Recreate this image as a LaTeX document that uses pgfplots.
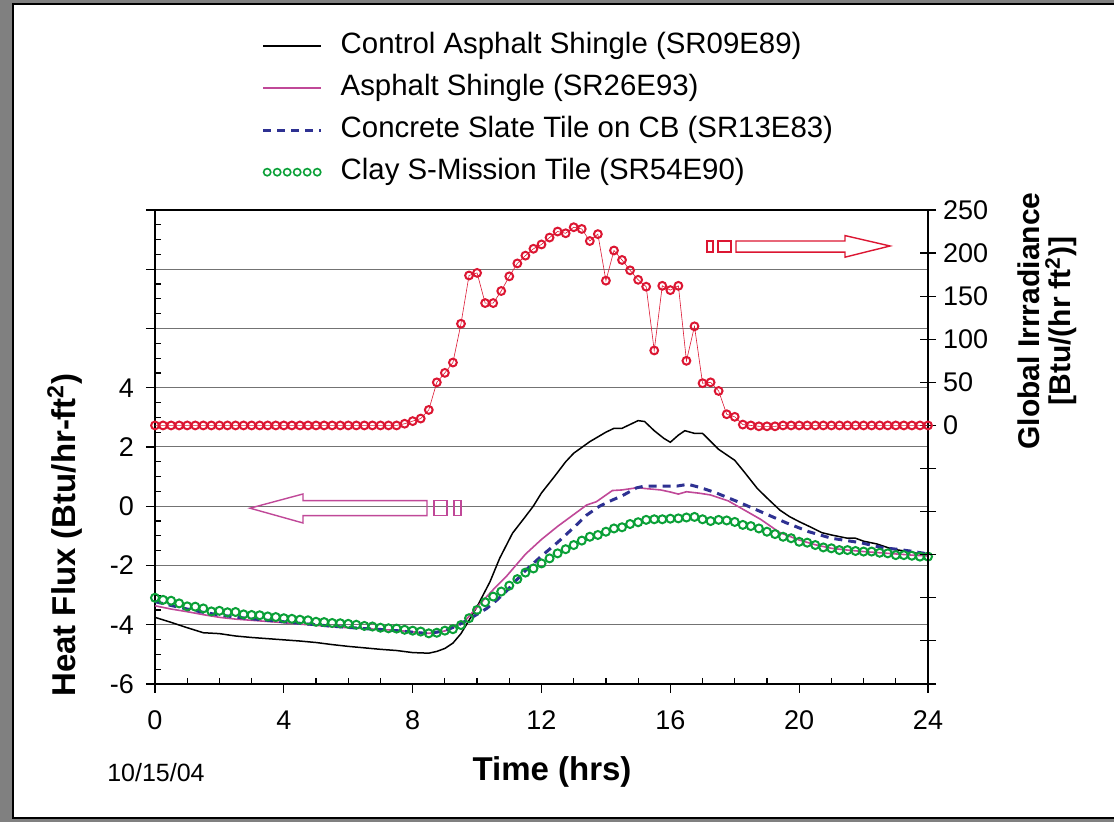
\documentclass[border=0pt]{standalone}
\usepackage{pgfplots}
\pgfplotsset{compat=1.18}
\usepackage{fontspec}
\setmainfont{Liberation Sans}
\definecolor{cred}{RGB}{220,22,50}
\definecolor{cmag}{RGB}{192,72,152}
\definecolor{cblue}{RGB}{46,49,146}
\definecolor{cgreen}{RGB}{10,160,55}
\definecolor{pagegray}{RGB}{128,128,128}
\newcommand\tickfont{\fontsize{13.5}{16}\selectfont}

% heat flux, Btu/hr-ft2
\pgfplotstableread{
t v
0 -3.75
0.5 -3.92
1.0 -4.10
1.5 -4.27
2.0 -4.30
2.5 -4.38
3.0 -4.43
3.5 -4.47
4.0 -4.51
4.5 -4.55
5.0 -4.60
5.5 -4.67
6.0 -4.73
6.5 -4.78
7.0 -4.83
7.5 -4.87
8.0 -4.94
8.5 -4.96
8.75 -4.90
9.0 -4.80
9.25 -4.62
9.5 -4.30
9.75 -3.85
10.0 -3.39
10.4 -2.55
10.7 -1.76
11.1 -0.91
11.5 -0.35
11.75 0.01
12.0 0.45
12.4 1.00
12.75 1.50
13.0 1.79
13.5 2.18
14.0 2.50
14.25 2.63
14.5 2.63
15.0 2.89
15.2 2.86
15.5 2.55
15.8 2.29
16.0 2.16
16.25 2.40
16.45 2.55
16.75 2.46
17.0 2.46
17.5 1.92
18.0 1.55
18.3 1.15
18.7 0.60
19.0 0.28
19.4 -0.13
19.7 -0.35
20.0 -0.52
20.35 -0.70
20.7 -0.89
21.0 -0.97
21.5 -1.08
21.75 -1.08
22.0 -1.18
22.4 -1.27
22.9 -1.45
23.4 -1.53
24.0 -1.66
}\control
\pgfplotstableread{
t v
0 -3.36
0.5 -3.47
1.0 -3.56
1.5 -3.66
2.0 -3.75
2.5 -3.81
3.0 -3.85
3.5 -3.89
4.0 -3.93
4.5 -3.98
5.0 -4.02
5.5 -4.07
6.0 -4.10
6.5 -4.13
7.0 -4.16
7.5 -4.19
8.0 -4.24
8.5 -4.29
9.0 -4.21
9.3 -4.07
9.6 -3.90
10.0 -3.40
10.3 -3.05
10.6 -2.70
10.9 -2.38
11.2 -2.00
11.5 -1.62
12.0 -1.12
12.5 -0.68
13.0 -0.28
13.4 0.04
13.7 0.15
14.2 0.53
14.5 0.55
15.0 0.63
15.2 0.60
15.7 0.55
16.0 0.48
16.25 0.41
16.5 0.49
16.9 0.44
17.25 0.38
17.8 0.18
18.3 -0.13
18.8 -0.44
19.4 -0.89
20.0 -1.14
20.5 -1.30
21.0 -1.42
21.5 -1.48
22.0 -1.53
22.5 -1.57
23.0 -1.61
23.5 -1.65
24.0 -1.68
}\shingle
\pgfplotstableread{
t v
0 -3.22
0.5 -3.35
1.0 -3.47
1.5 -3.58
2.0 -3.67
2.5 -3.74
3.0 -3.80
3.5 -3.85
4.0 -3.90
4.5 -3.95
5.0 -4.00
5.5 -4.05
6.0 -4.09
6.5 -4.13
7.0 -4.16
7.5 -4.20
8.0 -4.25
8.5 -4.30
9.0 -4.20
9.35 -4.05
9.7 -3.84
10.0 -3.65
10.3 -3.45
10.6 -3.18
10.9 -2.88
11.2 -2.52
11.5 -2.17
12.0 -1.68
12.5 -1.22
13.0 -0.72
13.4 -0.30
13.8 0.00
14.2 0.21
14.5 0.35
14.95 0.62
15.2 0.68
15.7 0.68
16.2 0.68
16.55 0.74
16.9 0.64
17.4 0.46
18.1 0.15
18.8 -0.18
19.6 -0.56
20.3 -0.86
21.0 -1.08
21.9 -1.23
22.6 -1.40
23.1 -1.46
23.5 -1.52
24.0 -1.61
}\slate
\pgfplotstableread{
t v
0 -3.09
0.25 -3.16
0.5 -3.19
0.75 -3.28
1 -3.38
1.25 -3.39
1.5 -3.45
1.75 -3.55
2 -3.53
2.25 -3.58
2.5 -3.57
2.75 -3.65
3 -3.67
3.25 -3.68
3.5 -3.72
3.75 -3.74
4 -3.78
4.25 -3.80
4.5 -3.83
4.75 -3.85
5 -3.90
5.25 -3.91
5.5 -3.94
5.75 -3.95
6 -3.97
6.25 -4.00
6.5 -4.04
6.75 -4.06
7 -4.10
7.25 -4.12
7.5 -4.13
7.75 -4.17
8 -4.20
8.25 -4.23
8.5 -4.29
8.75 -4.27
9 -4.20
9.25 -4.15
9.5 -4.01
9.75 -3.78
10 -3.50
10.25 -3.24
10.5 -3.05
10.75 -2.88
11 -2.68
11.25 -2.46
11.5 -2.24
11.75 -2.10
12 -1.93
12.25 -1.76
12.5 -1.59
12.75 -1.45
13 -1.31
13.25 -1.16
13.5 -1.03
13.75 -0.97
14 -0.86
14.25 -0.75
14.5 -0.71
14.75 -0.60
15 -0.54
15.25 -0.46
15.5 -0.44
15.75 -0.44
16 -0.42
16.25 -0.41
16.5 -0.38
16.75 -0.36
17 -0.44
17.25 -0.50
17.5 -0.46
17.75 -0.48
18 -0.53
18.25 -0.63
18.5 -0.67
18.75 -0.75
19 -0.86
19.25 -0.94
19.5 -1.03
19.75 -1.08
20 -1.20
20.25 -1.23
20.5 -1.31
20.75 -1.39
21 -1.42
21.25 -1.48
21.5 -1.48
21.75 -1.51
22 -1.53
22.25 -1.53
22.5 -1.57
22.75 -1.59
23 -1.65
23.25 -1.65
23.5 -1.67
23.75 -1.70
24 -1.70
}\clay
% global irradiance, Btu/(hr ft2)
\pgfplotstableread{
t v
0 0
0.25 0
0.5 0
0.75 0
1 0
1.25 0
1.5 0
1.75 0
2 0
2.25 0
2.5 0
2.75 0
3 0
3.25 0
3.5 0
3.75 0
4 0
4.25 0
4.5 0
4.75 0
5 0
5.25 0
5.5 0
5.75 0
6 0
6.25 0
6.5 0
6.75 0
7 0
7.25 0
7.5 0
7.75 2
8 5
8.25 8
8.5 18
8.75 50
9 61
9.25 73
9.5 118
9.75 174
10 177
10.25 142
10.5 142
10.75 156
11 173
11.25 188
11.5 197
11.75 205
12 210
12.25 218
12.5 225
12.75 223
13 230
13.25 228
13.5 214
13.75 222
14 168
14.25 203
14.5 192
14.75 180
15 169
15.25 161
15.5 87
15.75 162
16 157
16.25 162
16.5 75
16.75 115
17 49
17.25 50
17.5 40
17.75 13
18 10
18.25 1
18.5 0
18.75 -1
19 -1
19.25 -1
19.5 0
19.75 0
20 0
20.25 0
20.5 0
20.75 0
21 0
21.25 0
21.5 0
21.75 0
22 0
22.25 0
22.5 0
22.75 0
23 0
23.25 0
23.5 0
23.75 0
24 0
}\irr

\begin{document}
\begin{tikzpicture}
\useasboundingbox (-77.5pt,-69pt) rectangle (479.5pt,342pt);
\fill[pagegray] (-77.5pt,-69pt) rectangle (479.5pt,342pt);
\fill[white] (-71pt,-67pt) rectangle (485pt,340pt);
\draw[line width=1pt] (485pt,-67pt) -- (-71pt,-67pt) -- (-71pt,340pt) -- (485pt,340pt);

\begin{axis}[
  scale only axis, width=386.5pt, height=237pt,
  xmin=0, xmax=24, ymin=-6, ymax=10,
  xtick={0,4,...,24}, minor x tick num=3,
  ytick={-6,-4,...,10}, yticklabels={-6,-4,-2,0,2,4,,,},
  minor y tick num=3,
  xtick pos=left, ytick pos=left,
  tick align=outside, major tick length=4.5pt, minor tick length=-3pt,
  tick style={black, line width=0.6pt},
  ymajorgrids, grid style={black!55, line width=0.5pt},
  axis line style={line width=0.8pt},
  ticklabel style={font=\tickfont},
  xticklabel style={yshift=-5.5pt},
  yticklabel style={xshift=-2.5pt},
  /pgf/number format/assume math mode=true,
  clip=false,
  legend cell align=left,
  legend style={at={(0.1375,1.377)}, anchor=north west, draw=none, fill=none,
    font=\fontsize{14.7}{17}\selectfont, inner sep=0pt, row sep=6.5pt,
    nodes={inner sep=0pt, text height=11pt, text depth=3.5pt},
    /tikz/every odd column/.append style={column sep=9pt}},
]
\addplot[black, line width=0.75pt,
  legend image code/.code={\draw[black, line width=0.75pt] (0pt,0pt) -- (29pt,0pt);}]
  table {\control};
\addlegendentry{Control Asphalt Shingle (SR09E89)}
\addplot[cmag, line width=0.8pt,
  legend image code/.code={\draw[cmag, line width=0.8pt] (0pt,0pt) -- (29pt,0pt);}]
  table {\shingle};
\addlegendentry{Asphalt Shingle (SR26E93)}
\addplot[cblue, line width=1.5pt, dash pattern=on 4pt off 3pt,
  legend image code/.code={\draw[cblue, line width=1.5pt, dash pattern=on 4pt off 3pt] (0pt,0pt) -- (29pt,0pt);}]
  table {\slate};
\addlegendentry{Concrete Slate Tile on CB (SR13E83)}
\addplot[cgreen, only marks, mark=o, mark size=2pt, mark options={line width=1pt},
  legend image code/.code={\foreach \k in {0,...,5}{\draw[cgreen, line width=0.8pt] (2pt+\k*5pt,0pt) circle[radius=1.8pt];}}]
  table {\clay};
\addlegendentry{Clay S-Mission Tile (SR54E90)}
\end{axis}

\begin{axis}[
  scale only axis, width=386.5pt, height=237pt,
  xmin=0, xmax=24, ymin=-300, ymax=250,
  axis y line*=right, axis x line=none,
  ytick={-300,-250,...,250}, yticklabels={,,,,,,0,50,100,150,200,250},
  tick align=center, major tick length=8pt,
  tick style={black, line width=0.6pt},
  axis line style={line width=0.8pt},
  ticklabel style={font=\tickfont},
  /pgf/number format/assume math mode=true,
  clip=false,
]
\addplot[cred, line width=0.3pt, mark=o, mark size=1.95pt, mark options={line width=1pt, solid}]
  table {\irr};
\end{axis}

% direction arrows
\draw[cmag, line width=0.7pt] (47.5pt,87.9pt) -- (74pt,95pt) -- (74pt,91.65pt) -- (136pt,91.65pt)
  -- (136pt,84.15pt) -- (74pt,84.15pt) -- (74pt,80.5pt) -- cycle;
\draw[cmag, line width=0.7pt] (139.5pt,84.15pt) rectangle (146pt,91.65pt);
\draw[cmag, line width=0.7pt] (149.5pt,84.15pt) rectangle (153pt,91.65pt);
\draw[cred, line width=0.7pt] (290.5pt,221.5pt) -- (345pt,221.5pt) -- (345pt,224.2pt) -- (367.5pt,219pt)
  -- (345pt,213.4pt) -- (345pt,215.9pt) -- (290.5pt,215.9pt) -- cycle;
\draw[cred, line width=0.7pt] (276pt,215.9pt) rectangle (279pt,221.5pt);
\draw[cred, line width=0.7pt] (281.5pt,215.9pt) rectangle (288pt,221.5pt);

\node[rotate=90, font=\bfseries\fontsize{16.5}{19}\selectfont] at (-45pt,74.5pt) {Heat Flux (Btu/hr-ft\textsuperscript{2})};
\node[rotate=90, align=center, font=\bfseries\fontsize{15}{15.5}\selectfont] at (446pt,181.5pt) {Global Irrradiance\\{}[Btu/(hr ft\textsuperscript{2})]};
\node[font=\bfseries\fontsize{16.5}{19}\selectfont] at (198.5pt,-44pt) {Time (hrs)};
\node[font=\fontsize{12.5}{15}\selectfont] at (0.5pt,-44.5pt) {10/15/04};
\end{tikzpicture}
\end{document}
